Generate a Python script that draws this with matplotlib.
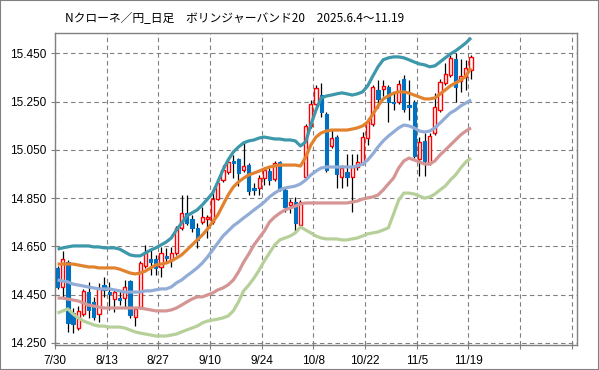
import matplotlib
matplotlib.use("Agg")
import matplotlib.pyplot as plt
from matplotlib.patches import Rectangle
import numpy as np

# daily candles 2025/7/30 .. 11/19 (NOK/JPY)
opens = [14.561, 14.482, 14.586, 14.374, 14.312, 14.370, 14.461, 14.420, 14.370, 14.490,
         14.461, 14.432, 14.436, 14.436, 14.507, 14.358, 14.399, 14.569, 14.598, 14.598,
         14.565, 14.610, 14.594, 14.623, 14.726, 14.789, 14.764, 14.726, 14.751, 14.764,
         14.751, 14.846, 14.925, 14.958, 15.004, 15.012, 14.967, 14.987, 14.892, 14.892,
         14.933, 14.962, 14.929, 15.000, 14.884, 14.822, 14.834, 14.739, 14.938, 15.149,
         15.240, 15.277, 15.198, 15.066, 15.103, 14.938, 14.958, 14.938, 14.979, 14.996,
         15.099, 15.157, 15.298, 15.302, 15.310, 15.248, 15.248, 15.343, 15.236, 15.248,
         15.012, 15.087, 14.996, 15.120, 15.215, 15.327, 15.360, 15.426, 15.335, 15.352,
         15.381]
highs = [14.569, 14.631, 14.594, 14.395, 14.403, 14.474, 14.503, 14.441, 14.498, 14.523,
         14.503, 14.470, 14.470, 14.511, 14.511, 14.399, 14.590, 14.656, 14.635, 14.615,
         14.648, 14.644, 14.648, 14.735, 14.863, 14.863, 14.780, 14.747, 14.813, 14.780,
         14.884, 14.925, 14.987, 15.008, 15.029, 15.016, 15.079, 14.996, 14.913, 14.946,
         14.979, 14.975, 15.004, 15.004, 14.892, 14.846, 14.855, 14.842, 15.157, 15.257,
         15.319, 15.327, 15.207, 15.136, 15.112, 14.987, 15.033, 15.033, 15.033, 15.124,
         15.182, 15.319, 15.339, 15.339, 15.319, 15.285, 15.339, 15.360, 15.339, 15.257,
         15.103, 15.120, 15.120, 15.285, 15.343, 15.410, 15.443, 15.451, 15.426, 15.422,
         15.443]
lows = [14.474, 14.436, 14.296, 14.292, 14.304, 14.362, 14.354, 14.345, 14.337, 14.441,
        14.387, 14.378, 14.407, 14.395, 14.354, 14.320, 14.391, 14.561, 14.532, 14.532,
        14.523, 14.581, 14.565, 14.615, 14.718, 14.739, 14.710, 14.644, 14.743, 14.685,
        14.743, 14.842, 14.917, 14.950, 14.933, 14.900, 14.958, 14.863, 14.863, 14.863,
        14.904, 14.904, 14.921, 14.880, 14.793, 14.788, 14.710, 14.731, 14.929, 15.141,
        15.232, 15.186, 14.958, 15.058, 14.892, 14.892, 14.900, 14.793, 14.967, 14.987,
        15.070, 15.149, 15.223, 15.273, 15.165, 15.215, 15.240, 15.207, 15.174, 15.016,
        14.942, 14.942, 14.987, 15.112, 15.207, 15.319, 15.352, 15.248, 15.290, 15.298,
        15.343]
closes = [14.482, 14.598, 14.333, 14.329, 14.383, 14.465, 14.387, 14.358, 14.478, 14.470,
          14.453, 14.461, 14.428, 14.482, 14.366, 14.391, 14.581, 14.623, 14.586, 14.561,
          14.623, 14.602, 14.623, 14.726, 14.789, 14.747, 14.726, 14.677, 14.772, 14.772,
          14.846, 14.913, 14.967, 15.000, 14.996, 14.954, 14.983, 14.880, 14.884, 14.933,
          14.967, 14.925, 14.996, 14.888, 14.813, 14.834, 14.747, 14.834, 15.149, 15.240,
          15.306, 15.207, 14.967, 15.099, 14.950, 14.975, 14.938, 14.979, 15.000, 15.103,
          15.170, 15.310, 15.261, 15.314, 15.248, 15.244, 15.323, 15.219, 15.227, 15.025,
          15.083, 15.004, 15.107, 15.227, 15.331, 15.364, 15.430, 15.310, 15.356, 15.389,
          15.435]

# bollinger band (20)
band_p2 = [14.639, 14.644, 14.648, 14.652, 14.652, 14.652, 14.652, 14.648, 14.648, 14.644,
           14.644, 14.644, 14.639, 14.627, 14.615, 14.611, 14.611, 14.623, 14.635, 14.644,
           14.656, 14.668, 14.685, 14.718, 14.747, 14.776, 14.789, 14.801, 14.822, 14.846,
           14.871, 14.917, 14.967, 15.008, 15.041, 15.062, 15.079, 15.087, 15.091, 15.099,
           15.103, 15.099, 15.095, 15.095, 15.091, 15.091, 15.087, 15.066, 15.083, 15.153,
           15.215, 15.265, 15.273, 15.277, 15.282, 15.286, 15.282, 15.277, 15.282, 15.290,
           15.315, 15.356, 15.394, 15.423, 15.431, 15.435, 15.435, 15.431, 15.423, 15.414,
           15.406, 15.402, 15.394, 15.398, 15.414, 15.431, 15.447, 15.460, 15.476, 15.493,
           15.514]
band_p1 = [14.577, 14.577, 14.577, 14.577, 14.573, 14.569, 14.565, 14.565, 14.561, 14.561,
           14.561, 14.561, 14.556, 14.548, 14.540, 14.536, 14.540, 14.548, 14.561, 14.573,
           14.577, 14.581, 14.590, 14.602, 14.615, 14.635, 14.656, 14.677, 14.697, 14.722,
           14.751, 14.780, 14.822, 14.863, 14.896, 14.917, 14.933, 14.946, 14.954, 14.962,
           14.971, 14.979, 14.983, 14.987, 14.987, 14.987, 14.987, 14.983, 15.020, 15.070,
           15.103, 15.120, 15.128, 15.132, 15.132, 15.132, 15.132, 15.136, 15.141, 15.149,
           15.165, 15.198, 15.232, 15.261, 15.273, 15.285, 15.290, 15.290, 15.285, 15.277,
           15.269, 15.261, 15.261, 15.265, 15.281, 15.298, 15.315, 15.327, 15.339, 15.356,
           15.389]
band_mid = [14.511, 14.507, 14.503, 14.494, 14.490, 14.486, 14.482, 14.478, 14.474, 14.474,
            14.474, 14.470, 14.466, 14.461, 14.461, 14.461, 14.461, 14.466, 14.466, 14.470,
            14.474, 14.474, 14.482, 14.499, 14.511, 14.528, 14.544, 14.561, 14.581, 14.606,
            14.635, 14.664, 14.693, 14.714, 14.735, 14.751, 14.768, 14.784, 14.801, 14.817,
            14.834, 14.855, 14.871, 14.884, 14.892, 14.896, 14.900, 14.909, 14.925, 14.946,
            14.962, 14.975, 14.979, 14.979, 14.979, 14.979, 14.979, 14.979, 14.983, 14.991,
            15.008, 15.033, 15.062, 15.087, 15.107, 15.124, 15.141, 15.153, 15.149, 15.141,
            15.128, 15.124, 15.128, 15.141, 15.161, 15.182, 15.203, 15.215, 15.232, 15.244,
            15.257]
band_m1 = [14.436, 14.436, 14.432, 14.428, 14.424, 14.416, 14.407, 14.403, 14.399, 14.395,
           14.395, 14.395, 14.395, 14.395, 14.395, 14.395, 14.395, 14.391, 14.387, 14.383,
           14.383, 14.383, 14.387, 14.395, 14.407, 14.420, 14.432, 14.441, 14.441, 14.449,
           14.457, 14.470, 14.478, 14.491, 14.511, 14.544, 14.585, 14.619, 14.656, 14.685,
           14.714, 14.751, 14.772, 14.788, 14.801, 14.809, 14.817, 14.826, 14.830, 14.830,
           14.830, 14.830, 14.830, 14.830, 14.830, 14.830, 14.830, 14.834, 14.838, 14.846,
           14.851, 14.855, 14.863, 14.884, 14.909, 14.933, 14.975, 15.004, 15.016, 15.008,
           15.000, 14.991, 14.991, 15.004, 15.029, 15.049, 15.070, 15.091, 15.112, 15.128,
           15.141]
band_m2 = [14.374, 14.383, 14.391, 14.370, 14.354, 14.341, 14.333, 14.325, 14.320, 14.320,
           14.316, 14.316, 14.316, 14.312, 14.304, 14.296, 14.291, 14.287, 14.283, 14.279,
           14.279, 14.279, 14.283, 14.287, 14.296, 14.304, 14.312, 14.320, 14.333, 14.341,
           14.345, 14.349, 14.354, 14.362, 14.383, 14.420, 14.466, 14.490, 14.519, 14.552,
           14.590, 14.623, 14.656, 14.677, 14.685, 14.693, 14.706, 14.731, 14.718, 14.706,
           14.693, 14.685, 14.681, 14.681, 14.681, 14.677, 14.677, 14.681, 14.685, 14.693,
           14.702, 14.706, 14.710, 14.718, 14.727, 14.784, 14.842, 14.871, 14.871, 14.867,
           14.859, 14.850, 14.855, 14.867, 14.884, 14.900, 14.925, 14.946, 14.975, 15.000,
           15.016]

x_labels = ["7/30", "8/13", "8/27", "9/10", "9/24", "10/8", "10/22", "11/5", "11/19", "", ""]
y_ticks = [14.25, 14.45, 14.65, 14.85, 15.05, 15.25, 15.45]

title = "Nクローネ／円_日足　ボリンジャーバンド20　2025.6.4～11.19"

fig = plt.figure(figsize=(5.99, 3.70), dpi=100)
ax = fig.add_axes([55/599, 1 - 345/370, 522/599, 312/370])

n = len(closes)
x = np.arange(n) + 0.5

# wicks
ax.vlines(x, lows, highs, color="black", linewidth=0.9, zorder=2)

# bodies
for i in range(n):
    o, c = opens[i], closes[i]
    if c >= o:
        ax.bar(x[i], max(c - o, 0.002), bottom=o, width=0.62, facecolor="white",
               edgecolor="#ff0000", linewidth=1.0, zorder=3)
    else:
        ax.bar(x[i], o - c, bottom=c, width=0.62, facecolor="#0070c0",
               edgecolor="#0070c0", linewidth=0.8, zorder=3)

lw = 2.3
ax.plot(x, band_m2, color="#b7d09a", linewidth=lw, zorder=4, solid_capstyle="butt")
ax.plot(x, band_m1, color="#d49594", linewidth=lw, zorder=4, solid_capstyle="butt")
ax.plot(x, band_mid, color="#91acd6", linewidth=lw, zorder=4, solid_capstyle="butt")
ax.plot(x, band_p1, color="#e2822f", linewidth=lw, zorder=4, solid_capstyle="butt")
ax.plot(x, band_p2, color="#3c98aa", linewidth=lw, zorder=4, solid_capstyle="butt")

ax.set_xlim(0, 101)
ax.set_ylim(14.2417, 15.534)

ax.set_xticks(np.arange(0, 101, 10))
ax.set_xticklabels(x_labels, fontsize=8.5, family="Liberation Sans")
ax.set_yticks(y_ticks)
ax.set_yticklabels([f"{v:.3f}" for v in y_ticks], fontsize=8.5, family="Liberation Sans")

ax.tick_params(axis="both", direction="inout", length=6, width=0.8, color="#808080",
               labelcolor="black")
ax.tick_params(axis="x", pad=4)
ax.tick_params(axis="y", pad=3)

ax.grid(True, which="major", linestyle=(0, (4, 3)), color="#808080", linewidth=0.8)
ax.set_axisbelow(True)
for s in ax.spines.values():
    s.set_color("#808080")
    s.set_linewidth(1.0)

fig.text(65/599, 1 - 18/370, title, fontsize=8.5, va="center", ha="left",
         family=["Noto Sans CJK JP", "DejaVu Sans"])

fig.patches.append(Rectangle((0, 0), 1, 1, transform=fig.transFigure, fill=False,
                             edgecolor="#808080", linewidth=1.5))

fig.savefig("out.png", dpi=100)
